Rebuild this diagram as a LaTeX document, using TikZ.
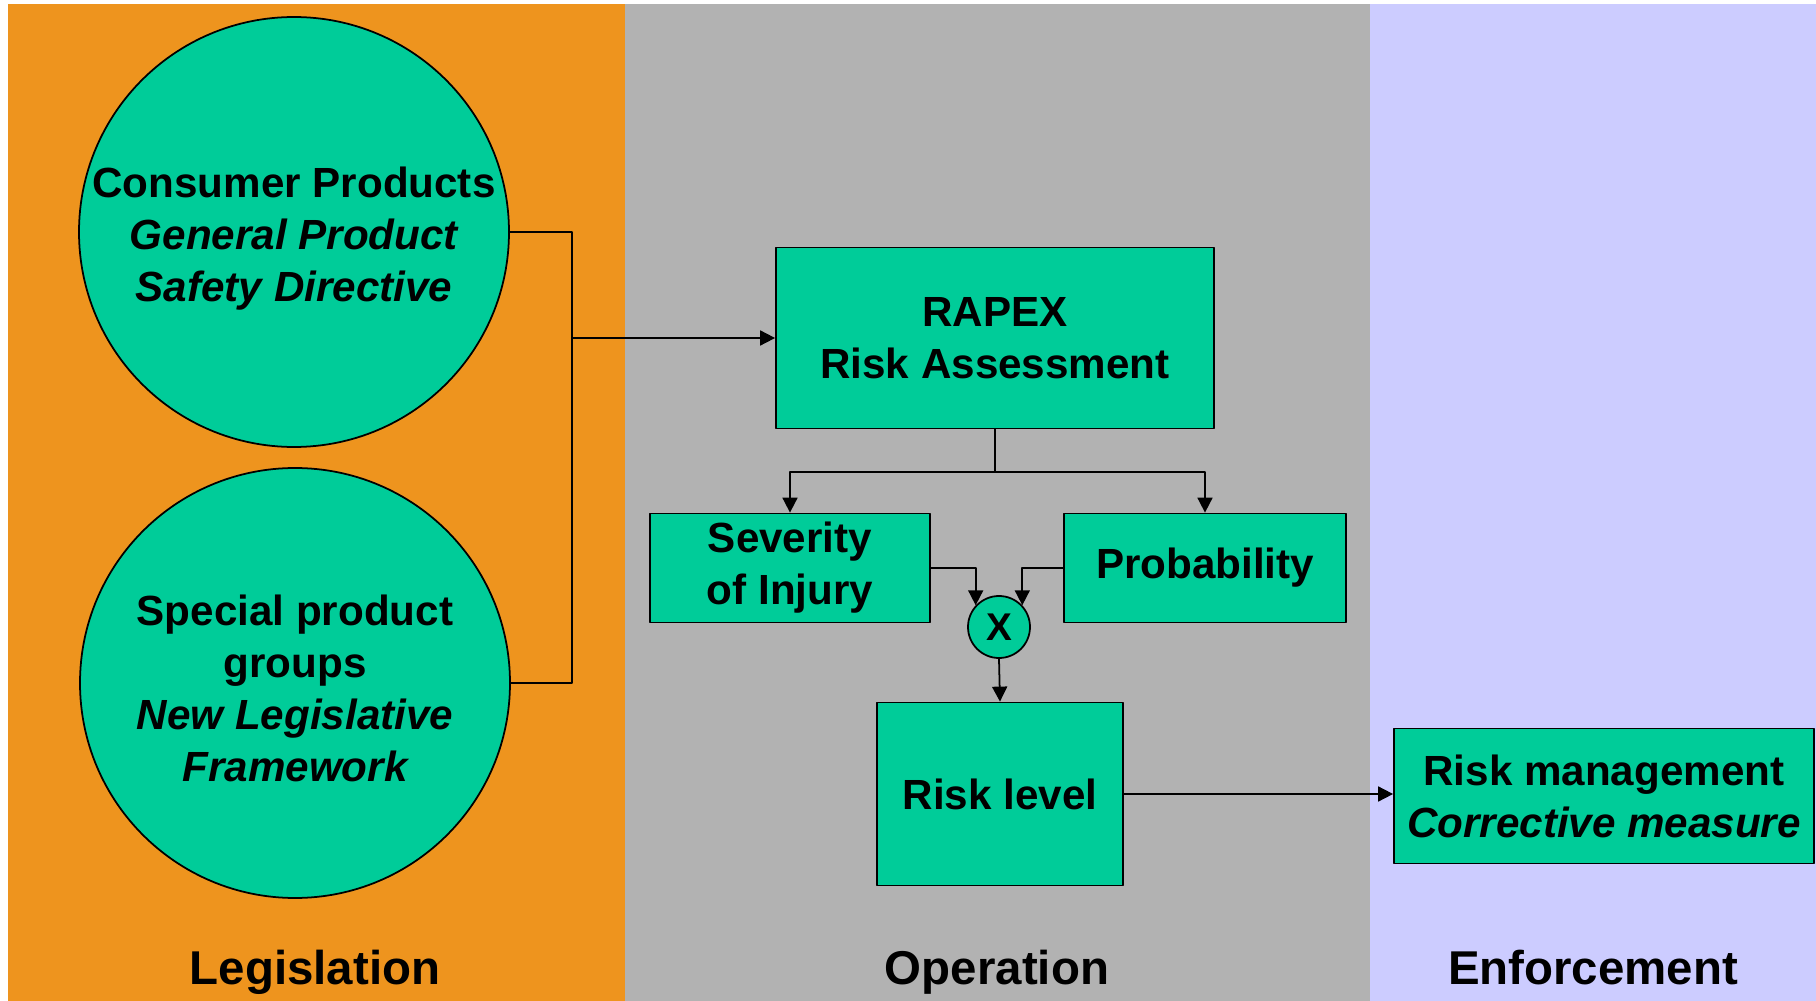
\documentclass[tikz,border=0pt]{standalone}
\usepackage{fontspec}
\setmainfont{Liberation Sans}
\usetikzlibrary{arrows.meta}
\definecolor{legis}{RGB}{238,148,30}
\definecolor{oper}{RGB}{178,178,178}
\definecolor{enfor}{RGB}{204,204,255}
\definecolor{mint}{RGB}{0,204,153}
\tikzset{
bubble/.style={circle,draw=black,fill=mint,line width=0.5pt,minimum size=43mm,inner sep=0pt},
box/.style={rectangle,draw=black,fill=mint,line width=0.5pt,inner sep=0pt,align=center,
font=\bfseries\fontsize{12}{14.8}\selectfont},
txt/.style={align=center,font=\bfseries\fontsize{12}{14.8}\selectfont},
band/.style={anchor=base,font=\bfseries\fontsize{13.5}{16}\selectfont}
}
\begin{document}
\begin{tikzpicture}[line cap=round,line join=round,>={Triangle[length=1.5mm,width=1.5mm]},
x=0.1mm,y=-0.1mm,line width=0.5pt]
\useasboundingbox (0,0) rectangle (1816,1001);
% Ba vùng nền
\fill[white] (0,0) rectangle (1816,1001);
\fill[legis] (8,4) rectangle (625,1001);
\fill[oper] (625,4) rectangle (1370,1001);
\fill[enfor] (1370,4) rectangle (1816,1001);
\node[band] (lg) at (315,984) {Legislation};
\node[band] (op) at (997,984) {Operation};
\node[band] (en) at (1593,984) {Enforcement};
% Hai vòng tròn bên trái
\node[bubble] (cons) at (294,232) {};
\node[txt] (consT) at ([yshift=-0.7mm]cons.center) {Consumer Products\\\itshape General Product\\\itshape Safety Directive};
\node[bubble] (spec) at (295,683) {};
\node[txt] (specT) at ([yshift=-0.5mm]spec.center) {Special product\\groups\\\itshape New Legislative\\\itshape Framework};
% Các hộp
\node[box,minimum width=43.8mm,minimum height=18.1mm] (rapex) at (995,338) {RAPEX\\Risk Assessment};
\node[box,minimum width=28mm,minimum height=10.9mm] (sev) at (790,568) {Severity\\of Injury};
\node[box,minimum width=28.2mm,minimum height=10.9mm] (prob) at (1205,568) {Probability};
\node[box,circle,minimum size=6.2mm,font=\bfseries\fontsize{11}{13}\selectfont] (xn) at (999,627) {X};
\node[box,minimum width=24.6mm,minimum height=18.3mm] (risk) at (1000,794) {Risk level};
\node[box,minimum width=42mm,minimum height=13.5mm] (mgmt) at (1604,796) {Risk management\\\itshape Corrective measure};
% Các đường nối
\coordinate (bus) at (572,0);
\draw (cons.east) -| (bus |- spec.east) -- (spec.east);
\draw[->] (bus |- rapex.west) -- (rapex.west);
\draw[->] (rapex.south) -- ++(0,43) -| (sev.north);
\draw[->] (rapex.south) ++(0,43) -| (prob.north);
\draw[->] (sev.east) -| (xn.137);
\draw[->] (prob.west) -| (xn.43);
\draw[->] (xn.south) -- (risk.north);
\draw[->] (risk.east) -- (mgmt.west |- risk.east);
\end{tikzpicture}
\end{document}
